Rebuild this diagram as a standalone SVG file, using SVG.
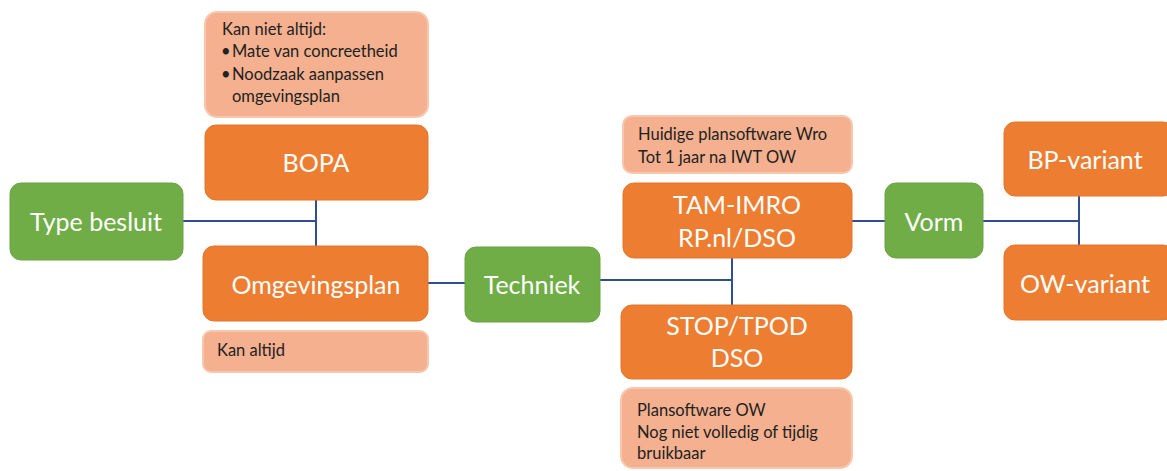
<svg xmlns="http://www.w3.org/2000/svg" width="1167" height="471" viewBox="0 0 1167 471">
<style>
.o{fill:#ED7D31;stroke:#E2762C;stroke-width:1}
.g{fill:#70AD47;stroke:#6AA343;stroke-width:1}
.n{fill:#F4B08F;stroke:#F8C8AE;stroke-width:2}
.t{font-family:Lato,"Liberation Sans",sans-serif;font-size:25px;fill:#FFFFFF;text-anchor:middle;dominant-baseline:central}
.s{font-family:Lato,"Liberation Sans",sans-serif;font-size:16.5px;fill:#222222}
.c{stroke:#2F4F8F;stroke-width:2;fill:none}
</style>
<rect width="1167" height="471" fill="#FFFFFF"/>
<g id="connectors">
<path class="c" d="M183 221 H316 M316 200 V246"/>
<path class="c" d="M428 283 H465"/>
<path class="c" d="M600 280 H732 M732 258 V305"/>
<path class="c" d="M852 221 H885"/>
<path class="c" d="M983 221 H1079 M1079 196 V245"/>
</g>
<g id="note-kan-niet-altijd">
<rect class="n" x="205" y="12" width="223" height="105" rx="12"/>
<text class="s" x="222" y="35">Kan niet altijd:</text>
<text class="s" x="221" y="57">•</text><text class="s" x="232" y="57">Mate van concreetheid</text>
<text class="s" x="221" y="80">•</text><text class="s" x="232" y="80">Noodzaak aanpassen</text>
<text class="s" x="232" y="102">omgevingsplan</text>
</g>
<g id="bopa">
<rect class="o" x="205" y="125" width="223" height="75" rx="11"/>
<text class="t" x="316" y="162">BOPA</text>
</g>
<g id="type-besluit">
<rect class="g" x="10" y="183" width="173" height="77" rx="11"/>
<text class="t" x="96" y="221">Type besluit</text>
</g>
<g id="omgevingsplan">
<rect class="o" x="203" y="246" width="225" height="75" rx="11"/>
<text class="t" x="316" y="284">Omgevingsplan</text>
</g>
<g id="note-kan-altijd">
<rect class="n" x="203" y="331" width="225" height="41" rx="8"/>
<text class="s" x="217" y="356">Kan altijd</text>
</g>
<g id="techniek">
<rect class="g" x="465" y="247" width="135" height="75" rx="11"/>
<text class="t" x="532" y="284">Techniek</text>
</g>
<g id="note-huidige">
<rect class="n" x="623" y="116" width="229" height="57" rx="9"/>
<text class="s" x="638" y="140">Huidige plansoftware Wro</text>
<text class="s" x="638" y="163">Tot 1 jaar na IWT OW</text>
</g>
<g id="tam-imro">
<rect class="o" x="623" y="183" width="229" height="75" rx="11"/>
<text class="t" x="737" y="204">TAM-IMRO</text>
<text class="t" x="737" y="237">RP.nl/DSO</text>
</g>
<g id="stop-tpod">
<rect class="o" x="621" y="305" width="231" height="74" rx="11"/>
<text class="t" x="737" y="325">STOP/TPOD</text>
<text class="t" x="737" y="357">DSO</text>
</g>
<g id="note-plansoftware">
<rect class="n" x="621" y="388" width="231" height="80" rx="12"/>
<text class="s" x="637" y="416">Plansoftware OW</text>
<text class="s" x="637" y="438">Nog niet volledig of tijdig</text>
<text class="s" x="637" y="459">bruikbaar</text>
</g>
<g id="vorm">
<rect class="g" x="885" y="183" width="98" height="75" rx="11"/>
<text class="t" x="934" y="221">Vorm</text>
</g>
<g id="bp-variant">
<rect class="o" x="1004" y="122" width="170" height="74" rx="11"/>
<text class="t" x="1085" y="159">BP-variant</text>
</g>
<g id="ow-variant">
<rect class="o" x="1004" y="245" width="170" height="75" rx="11"/>
<text class="t" x="1085" y="283">OW-variant</text>
</g>
</svg>
